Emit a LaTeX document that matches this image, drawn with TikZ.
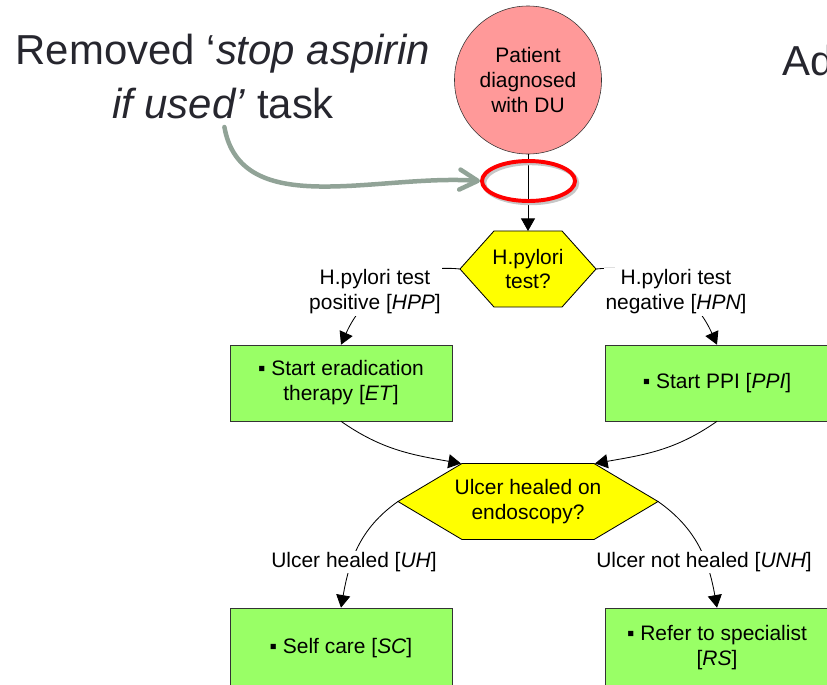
\documentclass[tikz,border=0pt]{standalone}
\usepackage{fontspec}
\setmainfont{Liberation Sans}
\usetikzlibrary{arrows.meta, positioning, shapes.geometric, calc}
\definecolor{patpink}{RGB}{255,153,153}
\definecolor{decyellow}{RGB}{255,255,0}
\definecolor{taskgreen}{RGB}{153,255,102}
\definecolor{notegray}{RGB}{145,163,151}
\definecolor{notetext}{RGB}{38,38,46}
\pgfdeclarelayer{background}
\pgfsetlayers{background,main}

\begin{document}
\begin{tikzpicture}[
  x=0.025cm, y=-0.025cm,
  every node/.style={font=\fontsize{14.9}{17.7}\selectfont},
  bigtext/.style={font=\fontsize{29.8}{38.3}\selectfont, text=notetext, inner sep=0pt},
  task/.style={rectangle, draw=black!80, fill=taskgreen, minimum width=5.55cm,
               minimum height=1.9cm, inner sep=0pt, align=center},
  decision/.style={rectangle, minimum height=1.9cm, inner sep=0pt, outer sep=0pt,
               align=center},
  hexfill/.style={draw=black, fill=decyellow, line width=0.6pt},
  ring/.style={ellipse, draw=red, line width=2.8pt, minimum width=2.325cm,
               minimum height=1cm, inner sep=0pt,
               preaction={draw=black!22, line width=3pt,
                          transform canvas={xshift=1.5pt, yshift=-1.5pt}}},
  lbl/.style={fill=white, inner sep=1pt, align=center},
  flow/.style={-{Triangle[length=9pt, width=10pt]}, line width=0.6pt},
  note/.style={notegray, line width=3.2pt, line cap=round,
               -{Straight Barb[length=0.45cm, width=0.5cm, round]}}
]
  \useasboundingbox (0,0) rectangle (827,684);
  \clip (0,0) rectangle (827,684);

  \node[bigtext, align=center] (removed) at (223,76.5)
    {Removed ‘\textit{stop aspirin}\\\textit{if used’} task};
  \node[bigtext, anchor=base west] (added) at (782,75) {Ad};

  \node[ellipse, draw=black!80, fill=patpink, minimum width=3.675cm,
        minimum height=3.7cm, inner sep=0pt, align=center] (pat) at (528,80)
    {Patient\\diagnosed\\with DU};

  \node[decision, minimum width=3.4cm] (hp) at (528,269) {H.pylori\\test?};
  \node[task] (et) at (341,383) {▪ Start eradication\\therapy [\textit{ET}]};
  \node[task, minimum width=5.6cm] (ppi) at (717,383) {▪ Start PPI [\textit{PPI}]};

  \node[decision, minimum width=6.5cm] (uh) at (528,501.5) {Ulcer healed on\\endoscopy?};
  \node[task, minimum height=2cm] (sc) at (341,648) {▪ Self care [\textit{SC}]};
  \node[task, minimum width=5.6cm, minimum height=2cm] (rs) at (717,648)
    {▪ Refer to specialist\\{[}\textit{RS}]};

  % hexagons behind the decision texts
  \begin{pgfonlayer}{background}
    \foreach \h/\c in {hp/34, uh/64}
      \draw[hexfill] (\h.west) -- ($(\h.north west)+(\c,0)$) -- ($(\h.north east)+(-\c,0)$)
        -- (\h.east) -- ($(\h.south east)+(-\c,0)$) -- ($(\h.south west)+(\c,0)$) -- cycle;
  \end{pgfonlayer}

  \draw[flow] (pat) -- (hp);
  \node[ring] (gap) at (528.5,181) {};
  \draw[note, shorten <=0.2cm] (removed.south) to[out=-80, in=176] (gap.west);

  \draw[flow] (hp.west) to[out=174, in=66] (et.north);
  \draw[flow] (hp.east) to[out=6, in=114] (ppi.north);
  \draw[flow] (et.south) to[out=-35, in=170] ($(uh.north)+(-67,0)$);
  \draw[flow] (ppi.south) to[out=-145, in=10] ($(uh.north)+(67,0)$);
  \draw[flow] (uh.west) to[out=215, in=80] (sc.north);
  \draw[flow] (uh.east) to[out=-35, in=100] (rs.north);

  % edge labels sit over the curves
  \node[lbl] (hpp) at (375,292) {H.pylori test\\positive [\textit{HPP}]};
  \node[lbl] (hpn) at (676,292) {H.pylori test\\negative [\textit{HPN}]};
  \node[lbl] (uhl) at (354,562) {Ulcer healed [\textit{UH}]};
  \node[lbl] (unh) at (704,562) {Ulcer not healed [\textit{UNH}]};
\end{tikzpicture}
\end{document}
